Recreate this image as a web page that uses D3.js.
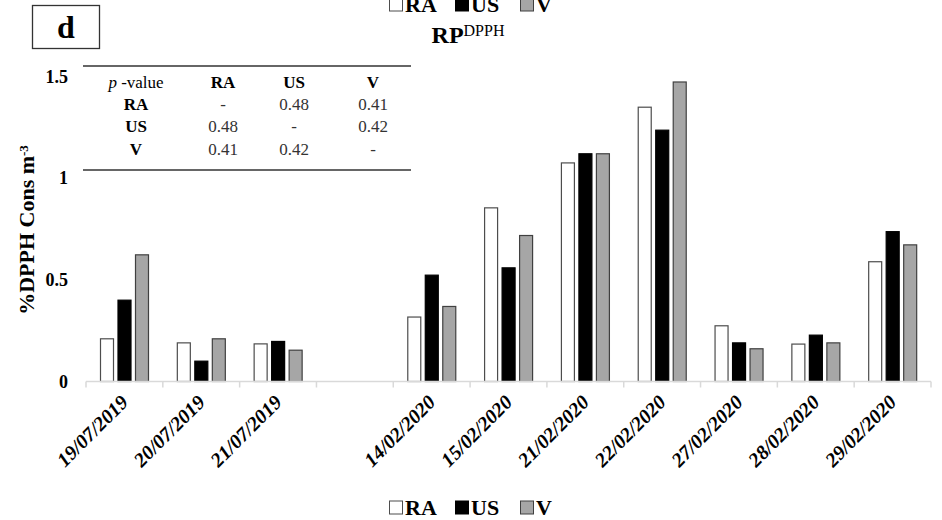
<!DOCTYPE html>
<html>
<head>
<meta charset="utf-8">
<script src="https://cdn.jsdelivr.net/npm/d3@7"></script>
<style>
    body { margin: 0; background: #fff; }
    svg { display: block; font-family: 'Liberation Serif', serif; }
</style>
</head>
<body>
<svg width="942" height="520"></svg>
<script>
// values (empty slot between the two campaigns)
const dates = ['19/07/2019', '20/07/2019', '21/07/2019', '', '14/02/2020', '15/02/2020',
    '21/02/2020', '22/02/2020', '27/02/2020', '28/02/2020', '29/02/2020'];
const seriesNames = ['RA', 'US', 'V'];
const raValues = [0.21, 0.19, 0.185, null, 0.317, 0.854, 1.075, 1.349, 0.274, 0.184, 0.589];
const usValues = [0.40, 0.10, 0.197, null, 0.523, 0.559, 1.12, 1.236, 0.19, 0.228, 0.737];
const vValues = [0.623, 0.21, 0.154, null, 0.369, 0.718, 1.12, 1.473, 0.161, 0.19, 0.672];
const yTicks = [0, 0.5, 1, 1.5];

// p-value table
const tableHeader = ['p', 'RA', 'US', 'V'];
const tableRows = [
    ['RA', '-', '0.48', '0.41'],
    ['US', '0.48', '-', '0.42'],
    ['V', '0.41', '0.42', '-']
];

const fills = { RA: '#ffffff', US: '#000000', V: '#a6a6a6' };
const strokes = { RA: '#4d4d4d', US: '#000000', V: '#404040' };

const svg = d3.select('svg');

const margin = { top: 76.5, bottom: 138.5, left: 86, right: 11 };
const width = +svg.attr('width') - margin.left - margin.right;
const height = +svg.attr('height') - margin.top - margin.bottom;

const chart = svg
    .append('g')
    .attr('transform', `translate(${margin.left},${margin.top})`);

// Create scales
const xScale = d3
    .scaleBand()
    .domain(d3.range(dates.length))
    .range([0, width])
    .padding(0);

const xInner = d3
    .scaleBand()
    .domain(seriesNames)
    .range([14, 63])
    .paddingInner(0.2);

const yScale = d3
    .scaleLinear()
    .range([height, 0])
    .domain([0, 1.5]);

const rows = dates.map(function(d, i) {
    return { date: d, i: i, RA: raValues[i], US: usValues[i], V: vValues[i] };
});

// Add the bars
chart
    .append('g')
    .selectAll('g')
    .data(rows)
    .enter()
    .append('g')
    .attr('transform', function(d) {
        return `translate(${xScale(d.i)},0)`;
    })
    .selectAll('rect')
    .data(function(d) {
        return seriesNames
            .filter(function(s) { return d[s] !== null; })
            .map(function(s) { return { key: s, value: d[s] }; });
    })
    .enter()
    .append('rect')
    .attr('x', function(d) { return xInner(d.key) + 0.5; })
    .attr('y', function(d) { return yScale(d.value); })
    .attr('width', xInner.bandwidth() - 1)
    .attr('height', function(d) { return height - yScale(d.value); })
    .style('fill', function(d) { return fills[d.key]; })
    .style('stroke', function(d) { return strokes[d.key]; })
    .style('stroke-width', 1.2);

// Add the X Axis (tick marks between the categories)
const xAxis = chart
    .append('g')
    .attr('transform', 'translate(0,' + height + ')');

xAxis
    .append('line')
    .attr('x1', 0)
    .attr('x2', width)
    .style('stroke', '#d9d9d9')
    .style('stroke-width', 1.5);

xAxis
    .selectAll('.tick')
    .data(d3.range(dates.length + 1))
    .enter()
    .append('line')
    .attr('x1', function(d) { return d * xScale.step(); })
    .attr('x2', function(d) { return d * xScale.step(); })
    .attr('y1', 0)
    .attr('y2', 6)
    .style('stroke', '#d9d9d9')
    .style('stroke-width', 1.5);

xAxis
    .selectAll('.label')
    .data(rows.filter(function(d) { return d.date !== ''; }))
    .enter()
    .append('text')
    .attr('transform', function(d) {
        return `translate(${xScale(d.i) + xScale.bandwidth() / 2 + 5},22) rotate(-45)`;
    })
    .style('text-anchor', 'end')
    .style('font-size', '20px')
    .style('font-weight', 'bold')
    .style('font-style', 'italic')
    .style('fill', '#000')
    .text(function(d) { return d.date; });

// Add the Y Axis (labels only)
chart
    .append('g')
    .selectAll('text')
    .data(yTicks)
    .enter()
    .append('text')
    .attr('x', -18)
    .attr('y', function(d) { return yScale(d); })
    .attr('dy', '0.35em')
    .style('text-anchor', 'end')
    .style('font-size', '18px')
    .style('font-weight', 'bold')
    .text(function(d) { return d3.format('~g')(d); });

const yTitle = svg
    .append('text')
    .attr('transform', 'translate(34,230) rotate(-90)')
    .style('text-anchor', 'middle')
    .style('font-size', '22px')
    .style('font-weight', 'bold');
yTitle.append('tspan').text('%DPPH Cons m');
yTitle.append('tspan').attr('dy', '-0.5em').style('font-size', '13px').text('-3');

// Title
const title = svg
    .append('text')
    .attr('x', 468)
    .attr('y', 43)
    .style('text-anchor', 'middle')
    .style('font-weight', 'bold');
title.append('tspan').style('font-size', '24px').text('RP');
title.append('tspan').attr('dy', '-7').style('font-size', '16px').style('font-weight', 'normal').text('DPPH');

// Panel letter
svg
    .append('rect')
    .attr('x', 32.5)
    .attr('y', 5.5)
    .attr('width', 67)
    .attr('height', 43)
    .style('fill', 'none')
    .style('stroke', '#333')
    .style('stroke-width', 1.3);

svg
    .append('text')
    .attr('x', 66)
    .attr('y', 38)
    .style('text-anchor', 'middle')
    .style('font-size', '32px')
    .style('font-weight', 'bold')
    .text('d');

// p-value table
const colX = [136, 223, 294, 373];
const rowY = [88, 110, 132, 155];
const table = svg.append('g').style('font-size', '17px');

table
    .selectAll('line')
    .data([66, 170])
    .enter()
    .append('line')
    .attr('x1', 83)
    .attr('x2', 411)
    .attr('y1', function(d) { return d; })
    .attr('y2', function(d) { return d; })
    .style('stroke', '#333')
    .style('stroke-width', 1.5);

const head = table
    .append('text')
    .attr('x', colX[0])
    .attr('y', rowY[0])
    .style('text-anchor', 'middle');
head.append('tspan').style('font-style', 'italic').text(tableHeader[0]);
head.append('tspan').text(' -value');

table
    .selectAll('.head')
    .data(tableHeader.slice(1))
    .enter()
    .append('text')
    .attr('x', function(d, i) { return colX[i + 1]; })
    .attr('y', rowY[0])
    .style('text-anchor', 'middle')
    .style('font-weight', 'bold')
    .text(function(d) { return d; });

tableRows.forEach(function(r, ri) {
    table
        .selectAll('.row' + ri)
        .data(r)
        .enter()
        .append('text')
        .attr('x', function(d, i) { return colX[i]; })
        .attr('y', rowY[ri + 1])
        .style('text-anchor', 'middle')
        .style('font-weight', function(d, i) { return i === 0 ? 'bold' : 'normal'; })
        .style('fill', function(d, i) { return i === 0 ? '#000' : '#333'; })
        .text(function(d) { return d; });
});

// Legends (one cut at the top, as in the figure, one at the bottom)
const legendX = [389, 455, 520];
[515, 12].forEach(function(base) {
    const legend = svg.append('g');
    legend
        .selectAll('rect')
        .data(seriesNames)
        .enter()
        .append('rect')
        .attr('x', function(d, i) { return legendX[i] + 0.5; })
        .attr('y', base - 14)
        .attr('width', 13)
        .attr('height', 13)
        .style('fill', function(d) { return fills[d]; })
        .style('stroke', function(d) { return strokes[d]; })
        .style('stroke-width', 1);
    legend
        .selectAll('text')
        .data(seriesNames)
        .enter()
        .append('text')
        .attr('x', function(d, i) { return legendX[i] + 16; })
        .attr('y', base)
        .style('font-size', '22px')
        .style('font-weight', 'bold')
        .text(function(d) { return d; });
});
</script>
</body>
</html>
